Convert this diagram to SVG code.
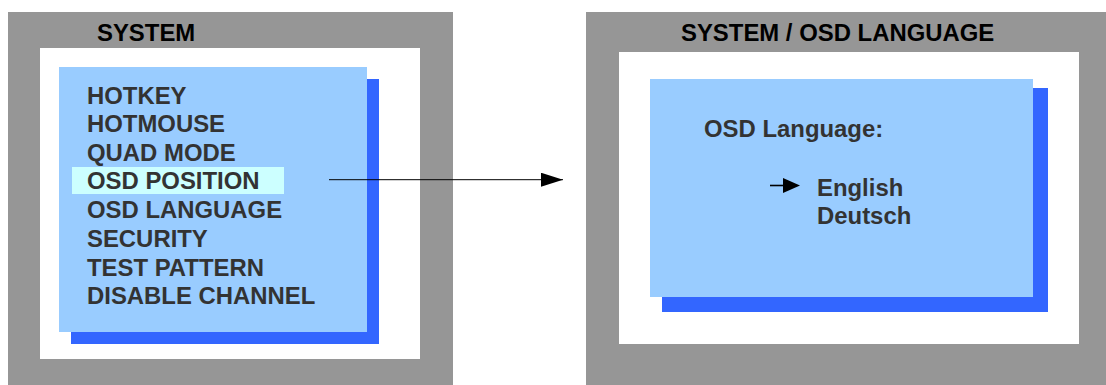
<svg xmlns="http://www.w3.org/2000/svg" width="1106" height="385" viewBox="0 0 1106 385">
<style>
.frame{fill:#969696}
.inner{fill:#ffffff}
.shadow{fill:#3366ff}
.panel{fill:#99ccff}
.hl{fill:#ccffff}
.title{font-family:"Liberation Sans",Arial,sans-serif;font-weight:bold;font-size:23.9px;fill:#000000}
.item{font-family:"Liberation Sans",Arial,sans-serif;font-weight:bold;font-size:23.9px;fill:#333333}
</style>
<defs>
<marker id="ah" markerWidth="22" markerHeight="14" refX="22" refY="7" orient="auto" markerUnits="userSpaceOnUse">
<path d="M0,0 L22,7 L0,14 Z" fill="#000000"/>
</marker>
</defs>
<g id="system">
<rect class="frame" x="8" y="12" width="445" height="373"/>
<rect class="inner" x="40" y="48" width="380" height="311"/>
<rect class="shadow" x="71" y="79" width="308" height="265"/>
<rect class="panel" x="59" y="67" width="308" height="265"/>
<rect class="hl" x="72" y="167" width="212" height="27"/>
<text class="title" x="97" y="41">SYSTEM</text>
<text class="item" x="87" y="103.7">HOTKEY</text>
<text class="item" x="87" y="132.3">HOTMOUSE</text>
<text class="item" x="87" y="161">QUAD MODE</text>
<text class="item" x="87" y="189.3">OSD POSITION</text>
<text class="item" x="87" y="218.3">OSD LANGUAGE</text>
<text class="item" x="87" y="247">SECURITY</text>
<text class="item" x="87" y="275.7">TEST PATTERN</text>
<text class="item" x="87" y="304.3">DISABLE CHANNEL</text>
</g>
<g id="osd-language">
<rect class="frame" x="586" y="12" width="520" height="373"/>
<rect class="inner" x="619" y="52" width="460" height="292"/>
<rect class="shadow" x="662" y="88" width="386" height="224"/>
<rect class="panel" x="650" y="79" width="383" height="218"/>
<text class="title" x="681" y="41">SYSTEM / OSD LANGUAGE</text>
<text class="item" x="704" y="137.3">OSD Language:</text>
<text class="item" x="817" y="196">English</text>
<text class="item" x="817" y="224">Deutsch</text>
<line x1="770" y1="185.5" x2="786" y2="185.5" stroke="#000000" stroke-width="1.6"/>
<path d="M783,178 L800,185.5 L783,193 Z" fill="#000000"/>
</g>
<g id="connectors">
<line x1="329" y1="179.7" x2="563" y2="179.7" stroke="#000000" stroke-width="1" marker-end="url(#ah)"/>
</g>
</svg>
